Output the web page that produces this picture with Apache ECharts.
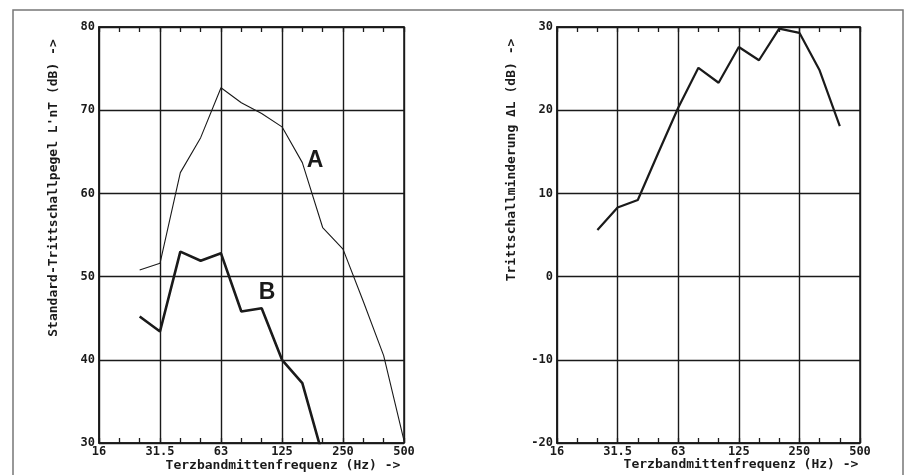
<!DOCTYPE html>
<html>
<head>
<meta charset="utf-8">
<script src="https://cdn.jsdelivr.net/npm/echarts@6/dist/echarts.min.js"></script>
<style>
html,body{margin:0;padding:0;background:#fff;}
#c{width:907px;height:475px;}
</style>
</head>
<body>
<div id="c"></div>
<script>
// third-octave band centre frequencies (Hz)
const freqCats = ['16','20','25','31.5','40','50','63','80','100','125','160','200','250','315','400','500'];
// octave labels shown on the axis
const octaveLabels = ['16','31.5','63','125','250','500'];
// left chart: standard impact sound level L'nT (dB)
const curveA = [null, null, 50.8, 51.6, 62.5, 66.7, 72.7, 70.9, 69.6, 68.0, 63.7, 55.9, 53.3, 47.0, 40.5, 30.3];
const curveB = [null, null, 45.2, 43.4, 53.0, 51.9, 52.8, 45.8, 46.2, 40.0, 37.2, 28.5, null, null, null, null];
// right chart: impact sound reduction ΔL (dB)
const deltaL = [null, null, 5.6, 8.3, 9.2, 14.8, 20.3, 25.1, 23.3, 27.6, 26.0, 29.8, 29.3, 24.8, 18.1, null];
// y ranges
const leftY = {min: 30, max: 80, interval: 10};
const rightY = {min: -20, max: 30, interval: 10};

const txtTitleLeftY = "Standard-Trittschallpegel L'nT (dB) ->";
const txtTitleRightY = "Trittschallminderung \u0394L (dB) ->";
const txtTitleX = "Terzbandmittenfrequenz (Hz) ->";

const MONO = '"DejaVu Sans Mono", "Liberation Mono", monospace';
const INK = '#1a1a1a';

function bottomAxis(gi) {
  return {
    type: 'category', gridIndex: gi, data: freqCats, boundaryGap: false, position: 'bottom',
    axisLine: {show: true, onZero: false, lineStyle: {color: INK, width: 1.5}},
    axisTick: {show: true, inside: true, interval: 0, length: 5, lineStyle: {color: INK, width: 1.3}},
    axisLabel: {
      show: true, interval: 2, margin: 3, color: INK,
      fontFamily: MONO, fontWeight: 'bold', fontSize: 12,
      formatter: v => octaveLabels.indexOf(v) >= 0 ? v : ''
    },
    splitLine: {show: true, interval: 2, lineStyle: {color: INK, width: 1.4}}
  };
}
function topAxis(gi) {
  return {
    type: 'category', gridIndex: gi, data: freqCats, boundaryGap: false, position: 'top',
    axisLine: {show: true, onZero: false, lineStyle: {color: INK, width: 1.5}},
    axisTick: {show: true, inside: true, interval: 0, length: 5, lineStyle: {color: INK, width: 1.3}},
    axisLabel: {show: false},
    splitLine: {show: false}
  };
}
function yAxis(gi, r) {
  return {
    type: 'value', gridIndex: gi, min: r.min, max: r.max, interval: r.interval,
    axisLine: {show: true, onZero: false, lineStyle: {color: INK, width: 1.5}},
    axisTick: {show: false},
    axisLabel: {show: true, margin: 4, color: INK, fontFamily: MONO, fontWeight: 'bold', fontSize: 12},
    splitLine: {show: true, lineStyle: {color: INK, width: 1.4}}
  };
}

const chart = echarts.init(document.getElementById('c'), null, {renderer: 'canvas'});
chart.setOption({
  backgroundColor: '#fff',
  animation: false,
  grid: [
    {left: 99, top: 27, width: 305, height: 416, show: true, borderColor: INK, borderWidth: 1.5, backgroundColor: 'transparent'},
    {left: 557, top: 27, width: 303, height: 416, show: true, borderColor: INK, borderWidth: 1.5, backgroundColor: 'transparent'}
  ],
  xAxis: [bottomAxis(0), topAxis(0), bottomAxis(1), topAxis(1)],
  yAxis: [yAxis(0, leftY), yAxis(1, rightY)],
  series: [
    {name: 'A', type: 'line', xAxisIndex: 0, yAxisIndex: 0, data: curveA, symbol: 'none', clip: true,
     lineStyle: {color: INK, width: 1.1}, connectNulls: false},
    {name: 'B', type: 'line', xAxisIndex: 0, yAxisIndex: 0, data: curveB, symbol: 'none', clip: true,
     lineStyle: {color: INK, width: 2.6}},
    {name: 'ΔL', type: 'line', xAxisIndex: 2, yAxisIndex: 1, data: deltaL, symbol: 'none', clip: true,
     lineStyle: {color: INK, width: 2.2}}
  ],
  graphic: [
    {type: 'rect', shape: {x: 13, y: 10, width: 890, height: 480}, style: {fill: 'none', stroke: '#777', lineWidth: 1.5}, silent: true},
    {type: 'text', x: 54, y: 188, rotation: Math.PI / 2,
     style: {text: txtTitleLeftY, fill: INK, font: 'bold 13px ' + MONO, align: 'center', verticalAlign: 'middle'}},
    {type: 'text', x: 512, y: 160, rotation: Math.PI / 2,
     style: {text: txtTitleRightY, fill: INK, font: 'bold 13px ' + MONO, align: 'center', verticalAlign: 'middle'}},
    {type: 'text', x: 283, y: 466,
     style: {text: txtTitleX, fill: INK, font: 'bold 13px ' + MONO, align: 'center', verticalAlign: 'middle'}},
    {type: 'text', x: 741, y: 465,
     style: {text: txtTitleX, fill: INK, font: 'bold 13px ' + MONO, align: 'center', verticalAlign: 'middle'}},
    {type: 'text', x: 315, y: 161,
     style: {text: 'A', fill: INK, font: 'bold 23px "Liberation Sans", Arial, sans-serif', align: 'center', verticalAlign: 'middle'}},
    {type: 'text', x: 267, y: 293,
     style: {text: 'B', fill: INK, font: 'bold 23px "Liberation Sans", Arial, sans-serif', align: 'center', verticalAlign: 'middle'}}
  ]
});
</script>
</body>
</html>
